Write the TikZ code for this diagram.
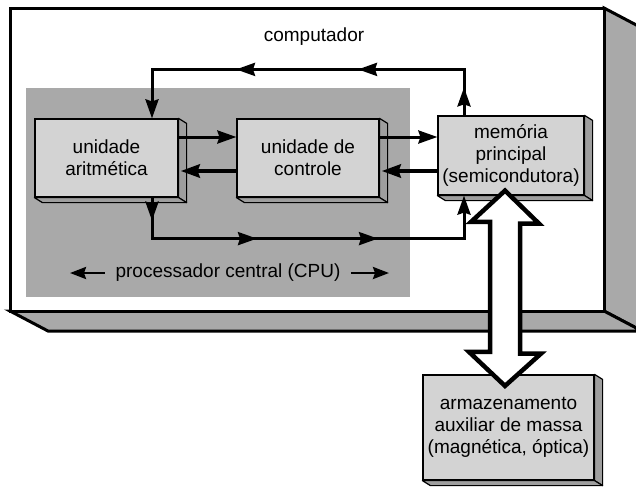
\documentclass[tikz,border=0pt]{standalone}
\usepackage{fontspec}
\setmainfont{Liberation Sans}
\usetikzlibrary{arrows.meta,decorations.markings}

\definecolor{facegray}{HTML}{D3D3D3}
\definecolor{sidegray}{HTML}{9E9E9E}
\definecolor{cpugray}{HTML}{A9A9A9}

\tikzstyle{unit} = [draw=black,line width=1.2pt,fill=facegray,inner sep=0pt,align=center]
\tikzstyle{side} = [draw=black,line width=1.2pt,fill=sidegray,line join=round]
\tikzstyle{flow} = [line width=3pt]
\tikzstyle{heavy} = [line width=4.5pt]
\tikzstyle{wall} = [draw=black,line width=3pt,line join=miter]

% right and bottom faces of a unit
\newcommand{\unitsides}[1]{%
  \path[side] (#1.north east) -- ++(8,5) -- ([shift={(8,5)}]#1.south east) -- (#1.south east) -- cycle;
  \path[side] (#1.south west) -- ++(8,5) -- ([shift={(8,5)}]#1.south east) -- (#1.south east) -- cycle;}

\begin{document}
\begin{tikzpicture}[x=1pt,y=-1pt,
  every node/.style={font=\fontsize{19}{22}\selectfont},
  >={Stealth[length=19pt,width=13pt,inset=2pt]}]
	\useasboundingbox (0,0) rectangle (636,488);
	% computer cabinet
	\path[wall,fill=cpugray] (604,8) -- ++(38,20) -- (642,331) -- (604,311) -- cycle;
	\path[wall,fill=cpugray] (10,311) -- ++(38,20) -- (642,331) -- (604,311) -- cycle;
	\path[wall,fill=white] (10,8) rectangle (604,311);
	\node (comp) at (314,37) {computador};
	% CPU area
	\fill[cpugray] (26,88) rectangle (410,297);
	\node (cpu) at (228,273) {processador central (CPU)};
	\draw[line width=2.4pt,{Stealth[length=16pt,width=12pt,inset=2pt]}-] ([xshift=-42pt]cpu.west) -- ([xshift=-7pt]cpu.west);
	\draw[line width=2.4pt,-{Stealth[length=16pt,width=12pt,inset=2pt]}] ([xshift=7pt]cpu.east) -- ([xshift=45pt]cpu.east);
	% units
	\node[unit,minimum width=143pt,minimum height=78pt] (ari) at (106.5,158) {unidade\\aritmética};
	\node[unit,minimum width=142pt,minimum height=78pt] (ctl) at (308,158) {unidade de\\controle};
	\node[unit,minimum width=146pt,minimum height=79pt] (mem) at (511,155.5) {memória\\principal\\(semicondutora)};
	\node[unit,minimum width=171pt,minimum height=105pt] (store) at (508.5,427.5) {armazenamento\\auxiliar de massa\\(magnética, óptica)};
	\unitsides{ari}
	\unitsides{ctl}
	\unitsides{mem}
	\unitsides{store}
	% data paths
	\draw[flow,->] ([yshift=21pt]ari.east) -- ([yshift=21pt]ctl.west);
	\draw[heavy,->] ([yshift=-13pt]ctl.west) -- ([yshift=-13pt,xshift=2pt]ari.east);
	\draw[flow,->] ([yshift=21pt]ctl.east) -- ([yshift=21pt]ctl.east -| mem.west);
	\draw[heavy,->] ([yshift=-13pt]ctl.east -| mem.west) -- ([yshift=-13pt,xshift=2pt]ctl.east);
	\draw[flow,->,postaction={decorate},decoration={markings,
	  mark=at position 28pt with {\arrow{>}},
	  mark=at position 152pt with {\arrow{>}},
	  mark=at position 274pt with {\arrow{>}}}]
	  ([xshift=-47pt]mem.north) -- ++(0,-46) -| ([xshift=45.5pt]ari.north);
	\draw[flow,->,postaction={decorate},decoration={markings,
	  mark=at position 23pt with {\arrow{>}},
	  mark=at position 146pt with {\arrow{>}},
	  mark=at position 267pt with {\arrow{>}}}]
	  ([xshift=45.5pt]ari.south) -- ++(0,41) -| ([xshift=-47pt]mem.south);
	% transfer to auxiliary storage
	\coordinate (up) at ([xshift=-6pt,yshift=5pt]mem.south);
	\coordinate (down) at ([xshift=-3.5pt,yshift=-11.5pt]store.north);
	\draw[line width=4.5pt,fill=white,line join=miter] (up) -- ++(34,33) -- ++(-19,0) -- ++(0,130) -- ++(21,0)
	  -- (down) -- ++(-36,-34) -- ++(21,0) -- ++(0,-130) -- ++(-19,0) -- cycle;
\end{tikzpicture}
\end{document}
